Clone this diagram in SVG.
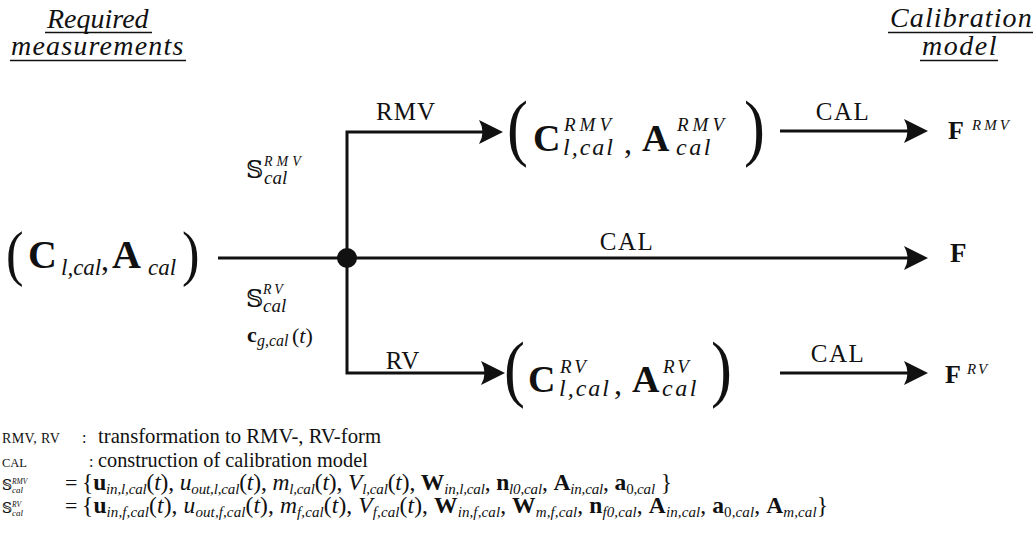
<svg xmlns="http://www.w3.org/2000/svg" width="1034" height="543" viewBox="0 0 1034 543" font-family="'Liberation Serif', 'Times New Roman', serif">
  <defs>
    <style>
      .t { font-family: "Liberation Serif", "Times New Roman", serif; fill: #111; }
      .b { font-weight: bold; }
      .i { font-style: italic; }
      .ds { font-family: "DejaVu Serif", "DejaVu Sans", serif; }
      .wire { stroke: #111; stroke-width: 3; fill: none; stroke-linejoin: miter; }
      .rule { stroke: #111; stroke-width: 1.4; }
    </style>
    <!-- stealth style arrowhead, tip 13px past the line end -->
    <marker id="arr" viewBox="0 -13 26 26" refX="11" refY="0" markerWidth="26" markerHeight="26" markerUnits="userSpaceOnUse" orient="auto">
      <path d="M24,0 L0,-12 Q7,0 0,12 Z" fill="#111"/>
    </marker>
  </defs>
  <rect width="1034" height="543" fill="#fff"/>

  <!-- column headings -->
  <g id="head-left">
    <text class="t i" x="47" y="28" font-size="28">Required</text>
    <line class="rule" x1="45" y1="32.5" x2="152" y2="32.5"/>
    <text class="t i" x="11" y="55" font-size="28" letter-spacing="1.2">measurements</text>
    <line class="rule" x1="10" y1="60.5" x2="186" y2="60.5"/>
  </g>
  <g id="head-right">
    <text class="t i" x="890" y="27" font-size="28" letter-spacing="1.1">Calibration</text>
    <line class="rule" x1="888" y1="32.5" x2="1033" y2="32.5"/>
    <text class="t i" x="922" y="55" font-size="28" letter-spacing="1.5">model</text>
    <line class="rule" x1="920" y1="60.5" x2="998" y2="60.5"/>
  </g>

  <!-- connectors -->
  <g id="connectors">
    <path class="wire" d="M218,258 H915" marker-end="url(#arr)"/>
    <path class="wire" d="M347,258 V132 H490" marker-end="url(#arr)"/>
    <path class="wire" d="M347,258 V373 H492" marker-end="url(#arr)"/>
    <path class="wire" d="M780,131 H915" marker-end="url(#arr)"/>
    <path class="wire" d="M780,373 H915" marker-end="url(#arr)"/>
    <circle cx="347" cy="258" r="10" fill="#111"/>
    <text class="t" x="406" y="120" font-size="25" text-anchor="middle" letter-spacing="1">RMV</text>
    <text class="t" x="403" y="369" font-size="25" text-anchor="middle" letter-spacing="1">RV</text>
    <text class="t" x="627" y="250" font-size="25" text-anchor="middle" letter-spacing="1.5">CAL</text>
    <text class="t" x="843" y="120" font-size="25" text-anchor="middle" letter-spacing="1.5">CAL</text>
    <text class="t" x="838" y="362" font-size="25" text-anchor="middle" letter-spacing="1.5">CAL</text>
    <!-- data sets carried along the branches -->
    <text class="t ds" x="246" y="178" font-size="24">𝕊</text>
    <text class="t i" x="264" y="166" font-size="14" letter-spacing="4">RMV</text>
    <text class="t i" x="264" y="184" font-size="19">cal</text>
    <text class="t ds" x="246" y="307" font-size="24">𝕊</text>
    <text class="t i" x="263" y="294" font-size="14" letter-spacing="3">RV</text>
    <text class="t i" x="263" y="312" font-size="19">cal</text>
    <text class="t" y="342" font-size="22"><tspan x="247" class="b">c</tspan><tspan x="257" y="346" class="i" font-size="16">g,cal</tspan><tspan x="292" y="343" font-size="22">(</tspan><tspan class="i">t</tspan><tspan>)</tspan></text>
  </g>

  <!-- measured inputs -->
  <g id="n-input">
    <text class="t" transform="translate(6 274) scale(0.85 1)" font-size="62">(</text>
    <text class="t b" x="28" y="268" font-size="40">C</text>
    <text class="t i" x="61" y="275" font-size="23">l,cal</text>
    <text class="t" x="101" y="270" font-size="32">,</text>
    <text class="t b" x="112" y="268" font-size="40">A</text>
    <text class="t i" x="148" y="275" font-size="23">cal</text>
    <text class="t" transform="translate(182 274) scale(0.85 1)" font-size="62">)</text>
  </g>

  <!-- RMV-form data -->
  <g id="n-rmv">
    <text class="t" transform="translate(507 152) scale(0.85 1)" font-size="74">(</text>
    <text class="t b" x="533" y="151" font-size="38">C</text>
    <text class="t i" x="564" y="131" font-size="19" letter-spacing="4">RMV</text>
    <text class="t i" x="563" y="155" font-size="24" letter-spacing="2">l,cal</text>
    <text class="t" x="624" y="153" font-size="32">,</text>
    <text class="t b" x="642" y="151" font-size="38">A</text>
    <text class="t i" x="677" y="131" font-size="19" letter-spacing="4">RMV</text>
    <text class="t i" x="676" y="155" font-size="24" letter-spacing="2.5">cal</text>
    <text class="t" transform="translate(744 152) scale(0.85 1)" font-size="74">)</text>
  </g>

  <!-- RV-form data -->
  <g id="n-rv">
    <text class="t" transform="translate(504 393) scale(0.85 1)" font-size="74">(</text>
    <text class="t b" x="528" y="392" font-size="38">C</text>
    <text class="t i" x="560" y="373" font-size="19" letter-spacing="3">RV</text>
    <text class="t i" x="559" y="396" font-size="24" letter-spacing="2">l,cal</text>
    <text class="t" x="614" y="394" font-size="32">,</text>
    <text class="t b" x="632" y="392" font-size="38">A</text>
    <text class="t i" x="663" y="373" font-size="19" letter-spacing="3">RV</text>
    <text class="t i" x="662" y="396" font-size="24" letter-spacing="2.5">cal</text>
    <text class="t" transform="translate(711 393) scale(0.85 1)" font-size="74">)</text>
  </g>

  <!-- calibration models -->
  <g id="n-f-rmv">
    <text class="t b" x="948" y="139" font-size="26">F</text>
    <text class="t i" x="972" y="130" font-size="15" letter-spacing="3">RMV</text>
  </g>
  <g id="n-f">
    <text class="t b" x="950" y="262" font-size="27">F</text>
  </g>
  <g id="n-f-rv">
    <text class="t b" x="945" y="383" font-size="26">F</text>
    <text class="t i" x="967" y="374" font-size="15" letter-spacing="2">RV</text>
  </g>

  <!-- legend -->
  <g id="legend">
    <text class="t" x="2" y="443" font-size="14" letter-spacing="0.4">RMV, RV</text>
    <text class="t" x="82" y="443" font-size="16">:</text>
    <text class="t" x="98" y="443" font-size="20.7">transformation to RMV-, RV-form</text>
    <text class="t" x="2" y="467" font-size="12.5">CAL</text>
    <text class="t" x="89" y="467" font-size="16">:</text>
    <text class="t" x="98" y="467" font-size="20.3">construction of calibration model</text>

    <text class="t ds" x="2" y="490" font-size="14">𝕊</text>
    <text class="t i" x="12" y="484" font-size="7.5">RMV</text>
    <text class="t i" x="12" y="493" font-size="9">cal</text>
    <text class="t" x="65" y="490" font-size="22">=</text>
    <text class="t" y="490" font-size="23.5" textLength="590" lengthAdjust="spacing"><tspan x="82">{</tspan><tspan class="b">u</tspan><tspan class="i" font-size="15" dy="4">in,l,cal</tspan><tspan dy="-4">(</tspan><tspan class="i">t</tspan><tspan>), </tspan><tspan class="i">u</tspan><tspan class="i" font-size="15" dy="4">out,l,cal</tspan><tspan dy="-4">(</tspan><tspan class="i">t</tspan><tspan>), </tspan><tspan class="i">m</tspan><tspan class="i" font-size="15" dy="4">l,cal</tspan><tspan dy="-4">(</tspan><tspan class="i">t</tspan><tspan>), </tspan><tspan class="i">V</tspan><tspan class="i" font-size="15" dy="4">l,cal</tspan><tspan dy="-4">(</tspan><tspan class="i">t</tspan><tspan>), </tspan><tspan class="b">W</tspan><tspan class="i" font-size="15" dy="4">in,l,cal</tspan><tspan dy="-4">, </tspan><tspan class="b">n</tspan><tspan class="i" font-size="15" dy="4">l0,cal</tspan><tspan dy="-4">, </tspan><tspan class="b">A</tspan><tspan class="i" font-size="15" dy="4">in,cal</tspan><tspan dy="-4">, </tspan><tspan class="b">a</tspan><tspan font-size="15" dy="4">0,</tspan><tspan class="i" font-size="15">cal</tspan><tspan dy="-4"> }</tspan></text>

    <text class="t ds" x="2" y="513" font-size="14">𝕊</text>
    <text class="t i" x="12" y="507" font-size="7.5">RV</text>
    <text class="t i" x="12" y="516" font-size="9">cal</text>
    <text class="t" x="65" y="513" font-size="22">=</text>
    <text class="t" y="513" font-size="23.5" textLength="746" lengthAdjust="spacing"><tspan x="82">{</tspan><tspan class="b">u</tspan><tspan class="i" font-size="15" dy="4">in,f,cal</tspan><tspan dy="-4">(</tspan><tspan class="i">t</tspan><tspan>), </tspan><tspan class="i">u</tspan><tspan class="i" font-size="15" dy="4">out,f,cal</tspan><tspan dy="-4">(</tspan><tspan class="i">t</tspan><tspan>), </tspan><tspan class="i">m</tspan><tspan class="i" font-size="15" dy="4">f,cal</tspan><tspan dy="-4">(</tspan><tspan class="i">t</tspan><tspan>), </tspan><tspan class="i">V</tspan><tspan class="i" font-size="15" dy="4">f,cal</tspan><tspan dy="-4">(</tspan><tspan class="i">t</tspan><tspan>), </tspan><tspan class="b">W</tspan><tspan class="i" font-size="15" dy="4">in,f,cal</tspan><tspan dy="-4">, </tspan><tspan class="b">W</tspan><tspan class="i" font-size="15" dy="4">m,f,cal</tspan><tspan dy="-4">, </tspan><tspan class="b">n</tspan><tspan class="i" font-size="15" dy="4">f0,cal</tspan><tspan dy="-4">, </tspan><tspan class="b">A</tspan><tspan class="i" font-size="15" dy="4">in,cal</tspan><tspan dy="-4">, </tspan><tspan class="b">a</tspan><tspan font-size="15" dy="4">0,</tspan><tspan class="i" font-size="15">cal</tspan><tspan dy="-4">, </tspan><tspan class="b">A</tspan><tspan class="i" font-size="15" dy="4">m,cal</tspan><tspan dy="-4">}</tspan></text>
  </g>
</svg>
